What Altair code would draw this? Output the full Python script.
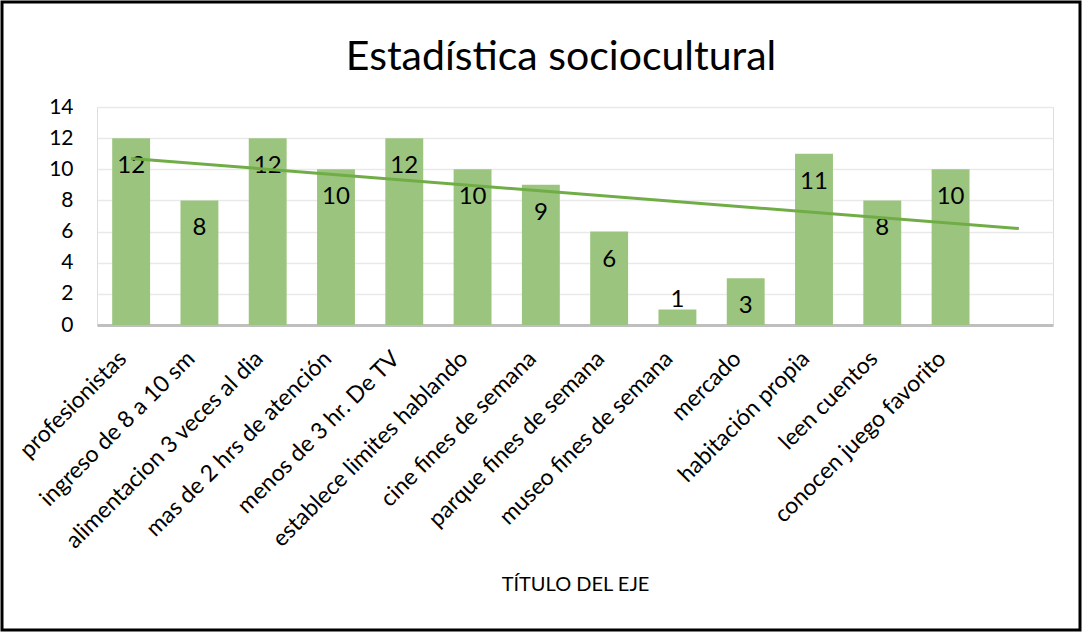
import altair as alt
import pandas as pd

categories = ["profesionistas", "ingreso de 8 a 10 sm", "alimentacion 3 veces al dia",
              "mas de 2 hrs de atención", "menos de 3 hr. De TV", "establece limites hablando",
              "cine fines de semana", "parque fines de semana", "museo fines de semana",
              "mercado", "habitación propia", "leen cuentos", "conocen juego favorito", " "]
values = [12, 8, 12, 10, 12, 10, 9, 6, 1, 3, 11, 8, 10, None]
index = list(range(1, len(categories) + 1))

df = pd.DataFrame({"cat": categories, "value": values, "idx": index})

FONT = "Lato"
BAR = "#9BC57E"
TREND = "#70AD47"

base = alt.Chart(df)

xband = alt.X("cat:N", sort=categories, title="TÍTULO DEL EJE",
              scale=alt.Scale(paddingInner=0.445, paddingOuter=0.2225),
              axis=alt.Axis(labelAngle=-45, ticks=False, domainColor="#BFBFBF", domainWidth=3,
                            labelFontSize=23, labelFont=FONT, labelColor="#000000",
                            labelLimit=0, labelOverlap=False,
                            labelPadding=22, labelOffset=-16,
                            titleFont=FONT, titleFontSize=20,
                            titleFontWeight="normal", titleColor="#000000", titlePadding=49))

yaxis = alt.Axis(values=[0, 2, 4, 6, 8, 10, 12, 14], domain=False, ticks=False,
                 labelOverlap=False,
                 gridColor="#E9E9E9", gridWidth=1.5, labelFont=FONT, labelFontSize=21,
                 labelColor="#000000", labelPadding=24)
yscale = alt.Scale(domain=[0, 14], nice=False)
yq = alt.Y("value:Q", title=None, scale=yscale, axis=yaxis)

bars = base.mark_bar(color=BAR).encode(x=xband, y=yq)

labels_in = base.transform_filter("datum.value >= 2").mark_text(
    baseline="middle", dy=28, font=FONT, fontSize=24, color="#000000"
).encode(x=alt.X("cat:N", sort=categories), y=yq, text="value:Q")

labels_out = base.transform_filter("isValid(datum.value) && datum.value < 2").mark_text(
    baseline="middle", dy=-9, font=FONT, fontSize=24, color="#000000"
).encode(x=alt.X("cat:N", sort=categories), y=yq, text="value:Q")

bar_layer = alt.layer(bars, labels_in, labels_out)

trend = base.transform_filter("isValid(datum.value)").transform_regression(
    "idx", "value", extent=[1, 14]
).mark_line(color=TREND, strokeWidth=3).encode(
    x=alt.X("idx:Q", scale=alt.Scale(domain=[0.5, 14.5], nice=False, zero=False), axis=None),
    y=yq,
)

frame = alt.Chart(alt.Data(values=[{"a": 1}])).mark_rect(
    fillOpacity=0, stroke="#000000", strokeWidth=3, clip=False
).encode(x=alt.value(-95), x2=alt.value(983), y=alt.value(-105), y2=alt.value(523))

chart = alt.layer(bar_layer, trend, frame).resolve_scale(x="independent").properties(
    width=956, height=218,
    title=alt.TitleParams("Estadística sociocultural", font=FONT, fontSize=41,
                          fontWeight="normal", color="#000000", anchor="middle",
                          baseline="alphabetic",
                          frame="group", offset=0, dx=-14, dy=110),
    autosize=alt.AutoSizeParams(type="none"),
    padding={"left": 97, "top": 107, "right": 30, "bottom": 308},
).configure_view(stroke="transparent", strokeWidth=0).configure(background="#FFFFFF")

chart.save("out.html", embed_options={"renderer": "svg", "actions": False})
